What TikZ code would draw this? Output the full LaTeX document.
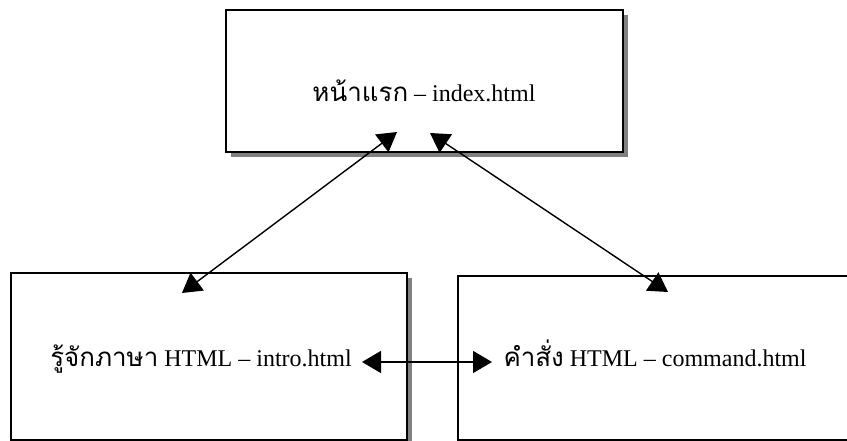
\documentclass[tikz,border=0pt]{standalone}
\usepackage{fontspec}
\setmainfont{Liberation Serif}
\newfontfamily\thai[Script=Thai,Scale=1.08]{Loma}
\usetikzlibrary{arrows.meta}
\tikzset{
  page/.style={draw=black, line width=1.5pt, fill=white, inner sep=0pt},
  pageshadow/.style={fill=black!50, draw=none},
  label/.style={font=\fontsize{24}{28}\selectfont, inner sep=0pt, anchor=base},
  link/.style={line width=1.4pt, {Triangle[length=19pt 0 0,width=22pt 0 0]}-{Triangle[length=19pt 0 0,width=22pt 0 0]}}
}
\begin{document}
\begin{tikzpicture}[x=1pt,y=1pt]
\useasboundingbox (0,0) rectangle (847,441);
% shadows
\fill[pageshadow] (231,284) rectangle (628,426);
\fill[pageshadow] (16,-4) rectangle (412,163);
\fill[pageshadow] (463,-4) rectangle (870,160);
% pages
\node[page, minimum width=397pt, minimum height=142pt] (index) at (424.5,360) {};
\node[page, minimum width=396pt, minimum height=167pt] (intro) at (209,84.5) {};
\node[page, minimum width=402pt, minimum height=164pt] (command) at (659,83) {};
% titles
\node[label] (indexlabel) at (424,339) {{\thai หน้าแรก} – index.html};
\node[label] (introlabel) at (201,74) {{\thai รู้จักภาษา} HTML – intro.html};
\node[label] (commandlabel) at (655,74) {{\thai คำสั่ง} HTML – command.html};
% link ends
\coordinate (indexL) at (397,309);
\coordinate (indexR) at (430,308);
\coordinate (introT) at (182,148);
\coordinate (introR) at (362,79);
\coordinate (commandT) at (668,149);
\coordinate (commandL) at (492,79);
% links
\draw[link] (indexL) -- (introT);
\draw[link] (indexR) -- (commandT);
\draw[link] (introR) -- (commandL);
\end{tikzpicture}
\end{document}
